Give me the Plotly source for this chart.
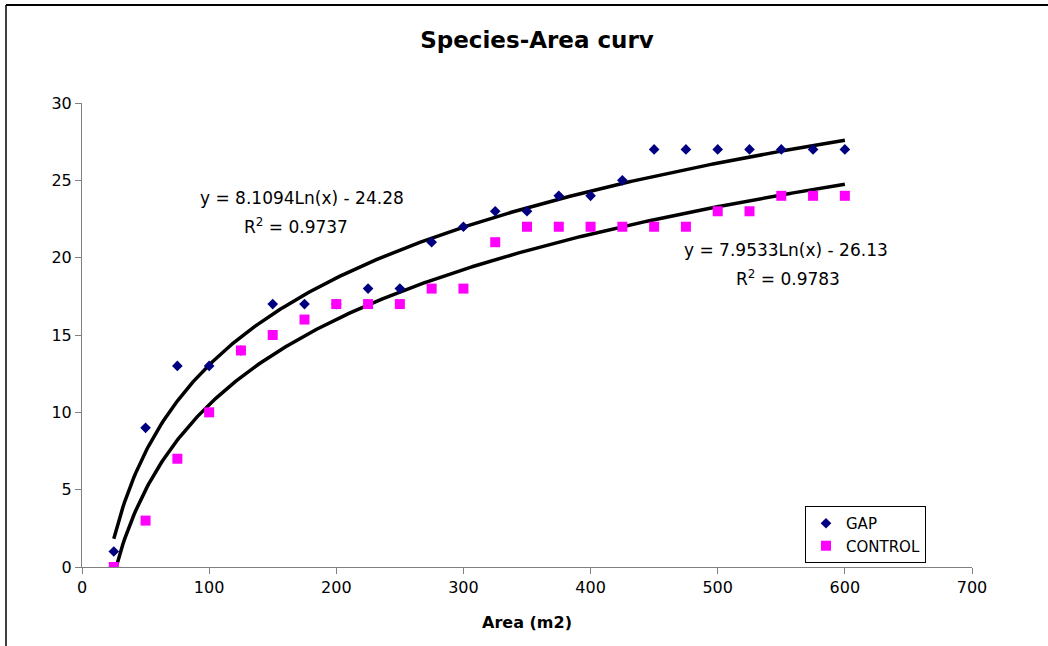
import numpy as np
import plotly.graph_objects as go

area = [25, 50, 75, 100, 125, 150, 175, 200, 225, 250, 275, 300,
        325, 350, 375, 400, 425, 450, 475, 500, 525, 550, 575, 600]
gap = [1, 9, 13, 13, 14, 17, 17, 17, 18, 18, 21, 22,
       23, 23, 24, 24, 25, 27, 27, 27, 27, 27, 27, 27]
control = [0, 3, 7, 10, 14, 15, 16, 17, 17, 17, 18, 18,
           21, 22, 22, 22, 22, 22, 22, 23, 23, 24, 24, 24]

gap_eq = ["y = 8.1094Ln(x) - 24.28", "R<sup>2</sup> = 0.9737"]
ctl_eq = ["y = 7.9533Ln(x) - 26.13", "R<sup>2</sup> = 0.9783"]
gap_coef = (8.1094, -24.28)
ctl_coef = (7.9533, -26.13)

FONT = "DejaVu Sans"

xs = np.linspace(min(area), max(area), 400)

fig = go.Figure()
fig.add_trace(go.Scatter(x=xs, y=gap_coef[0] * np.log(xs) + gap_coef[1], mode="lines",
                         line=dict(color="black", width=3.5), showlegend=False, hoverinfo="skip"))
fig.add_trace(go.Scatter(x=xs, y=ctl_coef[0] * np.log(xs) + ctl_coef[1], mode="lines",
                         line=dict(color="black", width=3.5), showlegend=False, hoverinfo="skip"))
fig.add_trace(go.Scatter(x=area, y=gap, mode="markers", name="GAP",
                         marker=dict(symbol="diamond", color="#000080", size=8.2)))
fig.add_trace(go.Scatter(x=area, y=control, mode="markers", name="CONTROL",
                         marker=dict(symbol="square", color="#FF00FF", size=10)))

W, H = 1048, 646
L, R, T, B = 82, 972, 103, 567
pw, ph = R - L, B - T

def px(x):
    return (x - L) / pw

def py(y):
    return (B - y) / ph

fig.update_layout(
    width=W, height=H,
    margin=dict(l=L, r=W - R, t=T, b=H - B),
    paper_bgcolor="white", plot_bgcolor="white",
    font=dict(family=FONT, size=16, color="black"),
    title=dict(text="<b>Species-Area curv</b>", x=px(537), xref="paper", xanchor="center",
               y=1 - 40 / H, yanchor="middle", font=dict(size=23, family=FONT)),
    xaxis=dict(range=[0, 700], tickvals=list(range(0, 701, 100)), showgrid=False, zeroline=False,
               showline=True, linecolor="#808080", linewidth=1, ticks="outside", ticklen=6,
               tickcolor="#808080", tickfont=dict(size=16),
               title=dict(text="<b>Area (m2)</b>", font=dict(size=16), standoff=20)),
    yaxis=dict(range=[0, 30], tickvals=list(range(0, 31, 5)), showgrid=False, zeroline=False,
               showline=True, linecolor="#808080", linewidth=1, ticks="outside", ticklen=6,
               tickcolor="#808080", tickfont=dict(size=16)),
    legend=dict(x=px(805), y=py(506), xanchor="left", yanchor="top",
                bordercolor="black", borderwidth=1, bgcolor="white",
                font=dict(size=15), itemwidth=30, tracegroupgap=0),
    showlegend=True,
)

for (line, cx, cy) in [(gap_eq[0], 302, 198), (gap_eq[1], 296, 226),
                       (ctl_eq[0], 786, 250), (ctl_eq[1], 788, 278)]:
    fig.add_annotation(text=line, x=px(cx), y=py(cy), xref="paper", yref="paper",
                       showarrow=False, xanchor="center", yanchor="middle",
                       font=dict(size=17, family=FONT))

# chart border
fig.add_shape(type="line", xref="paper", yref="paper", x0=px(6), x1=px(1070), y0=py(5), y1=py(5),
              line=dict(color="black", width=2))
fig.add_shape(type="line", xref="paper", yref="paper", x0=px(6), x1=px(6), y0=py(5), y1=py(660),
              line=dict(color="black", width=1.5))

fig.write_html("out.html", config={"displayModeBar": False},
               post_script="document.body.style.margin='0';document.body.style.overflow='hidden';")
